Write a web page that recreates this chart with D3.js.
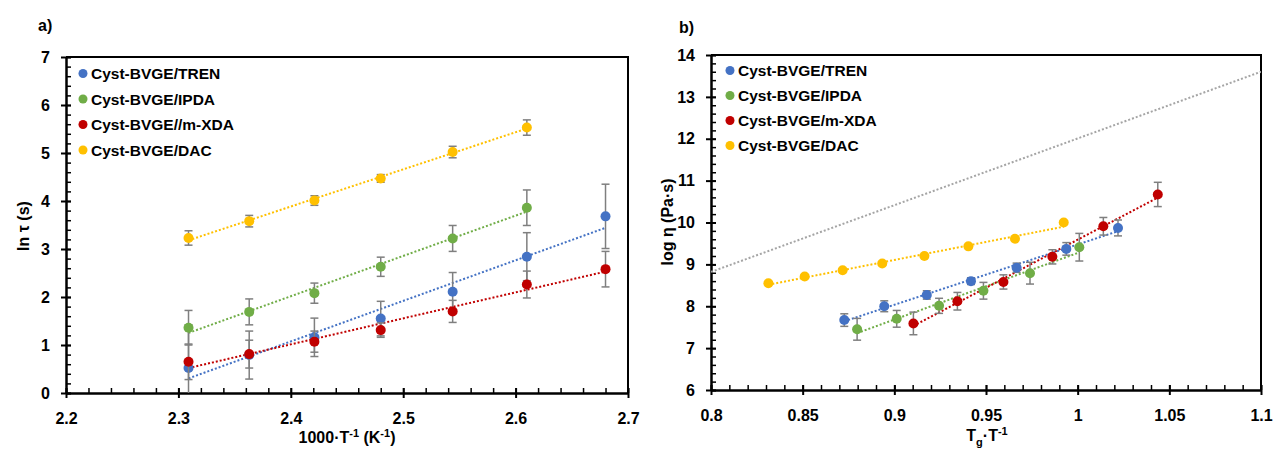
<!DOCTYPE html>
<html>
<head>
<meta charset="utf-8">
<script src="https://cdn.jsdelivr.net/npm/d3@7"></script>
<style>
  body { margin: 0; background: #fff; }
  svg text { font-family: "Liberation Sans", Arial, sans-serif; font-weight: bold; fill: #000; }
</style>
</head>
<body>
<svg id="chart" width="1276" height="450"></svg>
<script>
// ---- panel a) : ln tau vs 1000/T ----
const aX = [2.309, 2.363, 2.421, 2.480, 2.544, 2.610, 2.680];
const aTren = [0.52, 0.79, 1.16, 1.55, 2.11, 2.84, 3.68];
const aTrenErr = [0.9, 0.5, 0.4, 0.36, 0.4, 0.5, 0.67];
const aIpda = [1.36, 1.69, 2.08, 2.63, 3.22, 3.86];
const aIpdaErr = [0.36, 0.27, 0.21, 0.2, 0.27, 0.37];
const aMxda = [0.65, 0.81, 1.07, 1.31, 1.70, 2.26, 2.58];
const aMxdaErr = [0.37, 0.29, 0.22, 0.15, 0.23, 0.28, 0.37];
const aDac = [3.23, 3.58, 4.01, 4.47, 5.02, 5.53];
const aDacErr = [0.15, 0.12, 0.1, 0.08, 0.12, 0.16];
const aLegend = ["Cyst-BVGE/TREN", "Cyst-BVGE/IPDA", "Cyst-BVGE//m-XDA", "Cyst-BVGE/DAC"];

// ---- panel b) : log eta vs Tg/T ----
const bTrenX = [0.8727, 0.8945, 0.9177, 0.9418, 0.9667, 0.9938, 1.0220];
const bTren = [7.67, 8.00, 8.27, 8.60, 8.92, 9.37, 9.87];
const bTrenErr = [0.15, 0.13, 0.1, 0.08, 0.11, 0.15, 0.19];
const bIpdaX = [0.8797, 0.9013, 0.9244, 0.9486, 0.9740, 1.0009];
const bIpda = [7.45, 7.70, 8.01, 8.37, 8.79, 9.41];
const bIpdaErr = [0.26, 0.2, 0.18, 0.2, 0.26, 0.33];
const bMxdaX = [0.9104, 0.9344, 0.9595, 0.9862, 1.0140, 1.0437];
const bMxda = [7.59, 8.12, 8.58, 9.18, 9.91, 10.67];
const bMxdaErr = [0.27, 0.21, 0.17, 0.17, 0.21, 0.29];
const bDacX = [0.8313, 0.8511, 0.8718, 0.8934, 0.9164, 0.9404, 0.9658, 0.9924];
const bDac = [8.55, 8.71, 8.86, 9.02, 9.20, 9.43, 9.61, 10.0];
const bRefX = [0.8, 1.1];
const bRef = [8.82, 13.6];
const bLegend = ["Cyst-BVGE/TREN", "Cyst-BVGE/IPDA", "Cyst-BVGE/m-XDA", "Cyst-BVGE/DAC"];

const colors = ["#4472C4", "#70AD47", "#C00000", "#FFC000"];

const svg = d3.select("#chart");

function zip(xs, ys, es) {
  return ys.map((y, i) => ({ x: xs[i], y: y, e: es ? es[i] : 0 }));
}

// least squares line over the series' x range (Excel linear trendline)
function fit(pts) {
  const mx = d3.mean(pts, d => d.x), my = d3.mean(pts, d => d.y);
  const sxy = d3.sum(pts, d => (d.x - mx) * (d.y - my));
  const sxx = d3.sum(pts, d => (d.x - mx) * (d.x - mx));
  const k = sxy / sxx;
  const [x0, x1] = d3.extent(pts, d => d.x);
  return [{ x: x0, y: my + k * (x0 - mx) }, { x: x1, y: my + k * (x1 - mx) }];
}

function drawPanel(cfg) {
  const g = svg.append("g");
  const x = d3.scaleLinear().domain(cfg.xDomain).range([cfg.left, cfg.right]);
  const y = d3.scaleLinear().domain(cfg.yDomain).range([cfg.bottom, cfg.top]);

  const clipId = "clip" + cfg.id;
  svg.append("clipPath").attr("id", clipId).append("rect")
    .attr("x", cfg.left).attr("y", cfg.top)
    .attr("width", cfg.right - cfg.left).attr("height", cfg.bottom - cfg.top);

  // frame top/right
  g.append("path")
    .attr("d", `M${cfg.left},${cfg.top}H${cfg.right}V${cfg.bottom}`)
    .attr("fill", "none").attr("stroke", "#000").attr("stroke-width", 2);

  // minor ticks inside
  g.append("g").attr("transform", `translate(0,${cfg.bottom})`)
    .call(d3.axisBottom(x).tickValues(cfg.xMinor).tickSize(-5).tickFormat(""))
    .call(a => a.select(".domain").remove())
    .selectAll("line").attr("stroke-width", 1.5);
  g.append("g").attr("transform", `translate(${cfg.left},0)`)
    .call(d3.axisLeft(y).tickValues(cfg.yMinor).tickSize(-5).tickFormat(""))
    .call(a => a.select(".domain").remove())
    .selectAll("line").attr("stroke-width", 1.5);

  // major ticks + labels
  const xa = g.append("g").attr("transform", `translate(0,${cfg.bottom})`)
    .call(d3.axisBottom(x).tickValues(cfg.xTicks).tickSizeInner(5).tickSizeOuter(0)
      .tickPadding(15).tickFormat(cfg.xFormat));
  xa.select(".domain").attr("stroke-width", 2.5);
  xa.selectAll("line").attr("stroke-width", 2).attr("y1", -5);
  xa.selectAll("text").style("font-size", "16px");

  const ya = g.append("g").attr("transform", `translate(${cfg.left},0)`)
    .call(d3.axisLeft(y).tickValues(cfg.yTicks).tickSizeInner(5).tickSizeOuter(0)
      .tickPadding(11).tickFormat(d3.format("d")));
  ya.select(".domain").attr("stroke-width", 2.5);
  ya.selectAll("line").attr("stroke-width", 2).attr("x1", 5);
  ya.selectAll("text").style("font-size", "16px");

  const plot = g.append("g").attr("clip-path", `url(#${clipId})`);

  if (cfg.ref) {
    plot.append("path").datum(cfg.ref)
      .attr("d", d3.line().x(d => x(d.x)).y(d => y(d.y)))
      .attr("fill", "none").attr("stroke", "#A5A5A5")
      .attr("stroke-width", 2).attr("stroke-dasharray", "2,2");
  }

  cfg.series.forEach((pts, i) => {
    plot.append("path").datum(fit(pts))
      .attr("d", d3.line().x(d => x(d.x)).y(d => y(d.y)))
      .attr("fill", "none").attr("stroke", colors[i])
      .attr("stroke-width", 2).attr("stroke-dasharray", "2,2");
  });

  cfg.series.forEach((pts, i) => {
    const eb = plot.append("g").attr("stroke", "#7F7F7F").attr("stroke-width", 1.5);
    const withErr = pts.filter(d => d.e > 0);
    eb.selectAll("line.v").data(withErr).join("line")
      .attr("x1", d => x(d.x)).attr("x2", d => x(d.x))
      .attr("y1", d => y(d.y - d.e)).attr("y2", d => y(d.y + d.e));
    eb.selectAll("line.t").data(withErr.flatMap(d => [d.y - d.e, d.y + d.e].map(v => ({ x: d.x, v: v }))))
      .join("line")
      .attr("x1", d => x(d.x) - 4).attr("x2", d => x(d.x) + 4)
      .attr("y1", d => y(d.v)).attr("y2", d => y(d.v));

    plot.append("g").selectAll("circle").data(pts).join("circle")
      .attr("cx", d => x(d.x)).attr("cy", d => y(d.y))
      .attr("r", 5).attr("fill", colors[i]);
  });

  // legend
  const lg = g.append("g");
  cfg.legend.forEach((name, i) => {
    const cy = cfg.legendY + i * cfg.legendStep;
    lg.append("circle").attr("cx", cfg.legendX).attr("cy", cy).attr("r", 4.5).attr("fill", colors[i]);
    lg.append("text").attr("x", cfg.legendX + 8).attr("y", cy).attr("dy", "0.36em")
      .style("font-size", "15.5px").text(name);
  });

  g.append("text").attr("x", cfg.labelX).attr("y", cfg.labelY)
    .style("font-size", "16px").text(cfg.label);

  return { g, x, y };
}

// panel a
const pa = drawPanel({
  id: "a", left: 66, right: 628, top: 57, bottom: 393,
  xDomain: [2.2, 2.7], yDomain: [0, 7],
  xTicks: d3.range(6).map(i => 2.2 + i * 0.1),
  xMinor: d3.range(26).map(i => 2.2 + i * 0.02),
  yTicks: d3.range(8),
  yMinor: d3.range(36).map(i => i * 0.2),
  xFormat: d3.format(".1f"),
  series: [zip(aX, aTren, aTrenErr), zip(aX, aIpda, aIpdaErr), zip(aX, aMxda, aMxdaErr), zip(aX, aDac, aDacErr)],
  legend: aLegend, legendX: 83, legendY: 73.5, legendStep: 25.5,
  label: "a)", labelX: 38, labelY: 31
});

pa.g.append("text")
  .attr("transform", "translate(29,226) rotate(-90)")
  .attr("text-anchor", "middle").style("font-size", "16px")
  .text("ln τ (s)");
const ax = pa.g.append("text").attr("x", 347).attr("y", 443)
  .attr("text-anchor", "middle").style("font-size", "16px");
ax.append("tspan").text("1000·T");
ax.append("tspan").attr("dy", -6).style("font-size", "11px").text("-1");
ax.append("tspan").attr("dy", 6).text(" (K");
ax.append("tspan").attr("dy", -6).style("font-size", "11px").text("-1");
ax.append("tspan").attr("dy", 6).text(")");

// panel b
const pb = drawPanel({
  id: "b", left: 711, right: 1261, top: 55, bottom: 390,
  xDomain: [0.8, 1.1], yDomain: [6, 14],
  xTicks: d3.range(7).map(i => (80 + i * 5) / 100),
  xMinor: d3.range(31).map(i => (80 + i) / 100),
  yTicks: d3.range(6, 15),
  yMinor: d3.range(41).map(i => 6 + i * 0.2),
  xFormat: d => String(+d.toFixed(2)),
  ref: zip(bRefX, bRef),
  series: [zip(bTrenX, bTren, bTrenErr), zip(bIpdaX, bIpda, bIpdaErr), zip(bMxdaX, bMxda, bMxdaErr), zip(bDacX, bDac)],
  legend: bLegend, legendX: 730, legendY: 70.5, legendStep: 25,
  label: "b)", labelX: 679, labelY: 33
});

pb.g.append("text")
  .attr("transform", "translate(673,222) rotate(-90)")
  .attr("text-anchor", "middle").style("font-size", "16px")
  .text("log η (Pa·s)");
const bx = pb.g.append("text").attr("x", 987).attr("y", 441)
  .attr("text-anchor", "middle").style("font-size", "16px");
bx.append("tspan").text("T");
bx.append("tspan").attr("dy", 5).style("font-size", "11px").text("g");
bx.append("tspan").attr("dy", -5).text("·T");
bx.append("tspan").attr("dy", -6).style("font-size", "11px").text("-1");
</script>
</body>
</html>
